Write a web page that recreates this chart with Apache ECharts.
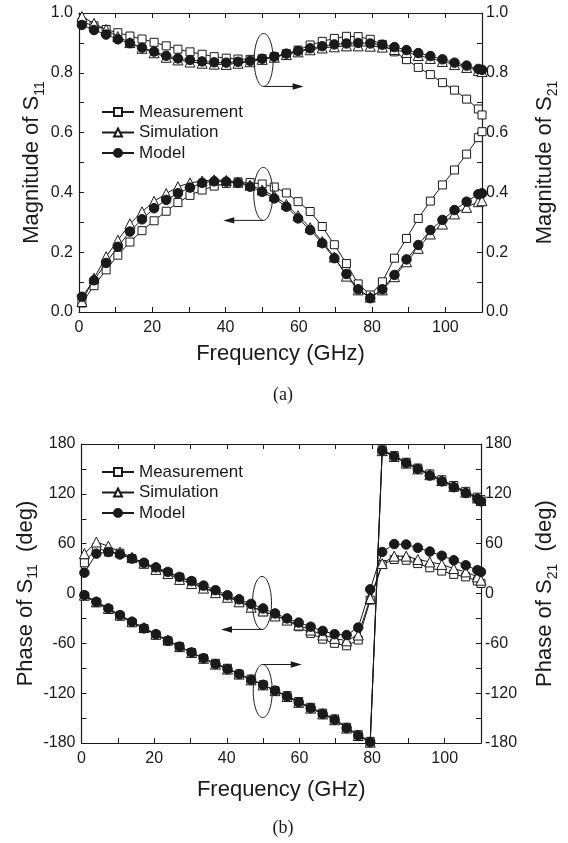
<!DOCTYPE html>
<html><head><meta charset="utf-8">
<script src="https://cdn.jsdelivr.net/npm/echarts@6/dist/echarts.min.js"></script>
<style>html,body{margin:0;padding:0;background:#fff}#c{width:568px;height:843px}</style>
</head><body><div id="c"></div>
<script>
// Frequency points (GHz)
const freq = [0.8, 4.1, 7.4, 10.6, 13.9, 17.2, 20.5, 23.8, 27.0, 30.3, 33.6, 36.9, 40.2, 43.4, 46.7, 50.0, 53.3, 56.6, 59.8, 63.1, 66.4, 69.7, 73.0, 76.2, 79.5, 82.8, 86.1, 89.4, 92.6, 95.9, 99.2, 102.5, 105.8, 109.0, 110.0];
const seriesNames = ['Measurement', 'Simulation', 'Model'];

// (a) Magnitude of S21 (right axis)
const magS21Meas  = [0.970, 0.957, 0.945, 0.934, 0.923, 0.913, 0.902, 0.890, 0.879, 0.870, 0.862, 0.854, 0.849, 0.846, 0.845, 0.847, 0.854, 0.864, 0.876, 0.893, 0.905, 0.915, 0.922, 0.921, 0.912, 0.895, 0.870, 0.844, 0.818, 0.794, 0.767, 0.742, 0.712, 0.679, 0.659];
const magS21Sim   = [0.988, 0.965, 0.945, 0.921, 0.901, 0.882, 0.867, 0.852, 0.843, 0.836, 0.832, 0.829, 0.828, 0.832, 0.837, 0.845, 0.852, 0.861, 0.870, 0.877, 0.883, 0.887, 0.890, 0.890, 0.889, 0.886, 0.878, 0.868, 0.858, 0.848, 0.838, 0.828, 0.818, 0.808, 0.804];
const magS21Model = [0.960, 0.943, 0.928, 0.912, 0.899, 0.884, 0.871, 0.857, 0.848, 0.843, 0.838, 0.835, 0.834, 0.837, 0.840, 0.847, 0.854, 0.864, 0.873, 0.882, 0.889, 0.895, 0.898, 0.900, 0.898, 0.894, 0.886, 0.876, 0.866, 0.856, 0.845, 0.834, 0.824, 0.813, 0.810];
// (a) Magnitude of S11 (left axis)
const magS11Meas  = [0.030, 0.088, 0.141, 0.190, 0.234, 0.272, 0.305, 0.337, 0.366, 0.390, 0.408, 0.421, 0.430, 0.435, 0.433, 0.428, 0.418, 0.398, 0.369, 0.336, 0.286, 0.225, 0.162, 0.094, 0.057, 0.101, 0.180, 0.246, 0.313, 0.371, 0.425, 0.475, 0.528, 0.583, 0.603];
const magS11Sim   = [0.035, 0.113, 0.185, 0.240, 0.295, 0.335, 0.370, 0.396, 0.419, 0.432, 0.438, 0.442, 0.440, 0.434, 0.424, 0.408, 0.388, 0.360, 0.322, 0.282, 0.236, 0.184, 0.120, 0.074, 0.050, 0.074, 0.118, 0.168, 0.213, 0.261, 0.294, 0.328, 0.350, 0.369, 0.372];
const magS11Model = [0.051, 0.106, 0.164, 0.218, 0.269, 0.310, 0.347, 0.375, 0.397, 0.416, 0.432, 0.437, 0.436, 0.432, 0.419, 0.402, 0.380, 0.352, 0.313, 0.274, 0.230, 0.180, 0.127, 0.076, 0.046, 0.076, 0.124, 0.176, 0.224, 0.274, 0.308, 0.341, 0.369, 0.394, 0.397];

// (b) Phase of S11 (left axis, deg)
const phS11Meas  = [37, 55, 50, 48.5, 42, 35.5, 30, 25, 19.5, 14, 7, 2, -4, -8.5, -15, -22, -26, -32, -40, -48, -55, -60, -63, -56, -8, 35, 41, 40, 36, 31, 27, 23, 20, 15, 12];
const phS11Sim   = [48, 62, 57, 50, 43.5, 36.5, 29, 24, 17, 12, 6.5, 1, -4.5, -10, -16.5, -21, -27, -32, -38, -44, -50, -54, -57, -50, -6, 36, 45, 45, 41, 38, 35, 30, 26, 20, 16];
const phS11Model = [25, 48, 50, 47, 42, 37, 31.5, 26, 20, 15, 9.5, 4, -2, -7, -12.5, -18, -24, -30, -35, -40, -45, -49, -50, -41, 5, 50, 59.5, 59, 55, 50.5, 45.5, 40, 34, 28, 26];
// (b) Phase of S21 (right axis, deg)
const phS21Meas  = [-3, -11, -19, -27, -35, -42, -50, -57, -64, -71, -78, -84, -90, -97, -103, -110, -117, -123, -130, -137, -144, -151, -161, -170, -178, 173, 166, 158, 151, 144, 137, 130, 123, 116, 113];
const phS21Sim   = [-2, -10, -18, -26, -34, -41, -49, -56, -64, -71, -78, -85, -91, -97, -104, -110, -117, -124, -131, -138, -145, -152, -162, -171, -179, 172, 165, 157, 150, 143, 136, 129, 122, 115, 112];
const phS21Model = [-2, -10, -18, -26, -34, -42, -49, -57, -64, -71, -78, -85, -91, -97, -104, -110, -117, -124, -131, -138, -145, -152, -162, -171, -179, 172, 165, 157, 150, 142, 135, 128, 121, 114, 111];

// Tick label values
const freqLabels = [0, 20, 40, 60, 80, 100];
const magLabels = [0, 0.2, 0.4, 0.6, 0.8, 1.0];
const phaseLabels = [-180, -120, -60, 0, 60, 120, 180];

const FONT = '"Liberation Sans", Arial, Helvetica, sans-serif';
const INK = '#1a1a1a';

const chart = echarts.init(document.getElementById('c'), null, {renderer: 'canvas'});

function xAxisDef(gridIndex, position, nameGap) {
  const bottom = position === 'bottom';
  return {
    type: 'value', gridIndex, position, min: 0, max: 110, interval: 10,
    axisLine: {show: true, onZero: false, lineStyle: {color: INK, width: 1.2}},
    axisTick: {show: true, inside: true, length: 5, lineStyle: {color: INK, width: 1}},
    splitLine: {show: false},
    axisLabel: {
      show: bottom, margin: 8, fontSize: 16, color: INK, fontFamily: FONT,
      formatter: v => { const r = Math.round(v); return freqLabels.includes(r) ? String(r) : ''; }
    },
    name: bottom ? 'Frequency (GHz)' : '', nameLocation: 'middle', nameGap, nameMoveOverlap: false,
    nameTextStyle: {fontSize: 22, color: INK, fontFamily: FONT}
  };
}
const richName = {
  t: {fontSize: 22, lineHeight: 30, color: INK, fontFamily: FONT, verticalAlign: 'middle'},
  s: {fontSize: 14, lineHeight: 14, color: INK, fontFamily: FONT, verticalAlign: 'bottom'}
};
function yAxisDef(gridIndex, position, min, max, interval, labels, fmt, name, nameGap, margin) {
  return {
    type: 'value', gridIndex, position, min, max, interval,
    axisLine: {show: true, onZero: false, lineStyle: {color: INK, width: 1.2}},
    axisTick: {show: true, inside: true, length: 5, lineStyle: {color: INK, width: 1}},
    splitLine: {show: false},
    axisLabel: {
      margin, fontSize: 16, color: INK, fontFamily: FONT,
      formatter: v => { const hit = labels.find(l => Math.abs(l - v) < 1e-6); return hit === undefined ? '' : fmt(hit); }
    },
    name, nameLocation: 'middle', nameRotate: 90, nameGap, nameMoveOverlap: false,
    nameTextStyle: {color: INK, fontFamily: FONT, rich: richName}
  };
}
const f1 = v => v.toFixed(1);
const f0 = v => String(v);

const styles = [
  {symbol: 'rect', symbolSize: 8, itemStyle: {color: '#fff', borderColor: INK, borderWidth: 1}},
  {symbol: 'triangle', symbolSize: 10, itemStyle: {color: '#fff', borderColor: INK, borderWidth: 1}},
  {symbol: 'circle', symbolSize: 9.5, itemStyle: {color: INK, borderColor: INK, borderWidth: 1}}
];
function mk(nameIdx, xAxisIndex, yAxisIndex, values) {
  const st = styles[nameIdx];
  return {
    type: 'line', name: seriesNames[nameIdx], xAxisIndex, yAxisIndex,
    data: freq.map((f, i) => [f, values[i]]),
    symbol: st.symbol, symbolSize: st.symbolSize, showAllSymbol: true,
    itemStyle: st.itemStyle,
    lineStyle: {color: INK, width: 1},
    z: 2 + nameIdx, silent: true, animation: false
  };
}

const legendDef = top => ({
  data: seriesNames, orient: 'vertical', left: 96, top,
  itemWidth: 32, itemHeight: 10, itemGap: 2.5, selectedMode: false,
  textStyle: {fontSize: 17, lineHeight: 18, color: INK, fontFamily: FONT}
});

chart.setOption({
  backgroundColor: '#fff',
  animation: false,
  grid: [
    {left: 79, right: 81, top: 13, height: 299},
    {left: 81.5, right: 80, top: 444, height: 299}
  ],
  legend: [legendDef(98), legendDef(458)],
  xAxis: [
    xAxisDef(0, 'bottom', 31), xAxisDef(0, 'top', 0),
    xAxisDef(1, 'bottom', 36), xAxisDef(1, 'top', 0)
  ],
  yAxis: [
    yAxisDef(0, 'left', 0, 1, 0.1, magLabels, f1, '{t|Magnitude of S}{s|11}', 32, 6),
    yAxisDef(0, 'right', 0, 1, 0.1, magLabels, f1, '{t|Magnitude of S}{s|21}', 48, 4),
    yAxisDef(1, 'left', -180, 180, 30, phaseLabels, f0, '{t|Phase of S}{s|11}{t|  (deg)}', 41, 6),
    yAxisDef(1, 'right', -180, 180, 30, phaseLabels, f0, '{t|Phase of S}{s|21}{t|  (deg)}', 49, 4)
  ],
  series: [
    mk(0, 0, 0, magS11Meas), mk(1, 0, 0, magS11Sim), mk(2, 0, 0, magS11Model),
    mk(0, 0, 1, magS21Meas), mk(1, 0, 1, magS21Sim), mk(2, 0, 1, magS21Model),
    mk(0, 2, 2, phS11Meas), mk(1, 2, 2, phS11Sim), mk(2, 2, 2, phS11Model),
    mk(0, 2, 3, phS21Meas), mk(1, 2, 3, phS21Sim), mk(2, 2, 3, phS21Model)
  ]
});

// Annotations: ellipse around a curve group with an arrow pointing to its axis
const annots = [
  {xAxisIndex: 0, yAxisIndex: 1, x: 50.4, y: 0.843, dir: 1, side: 1, len: 40},
  {xAxisIndex: 0, yAxisIndex: 0, x: 50.3, y: 0.395, dir: -1, side: 1, len: 40},
  {xAxisIndex: 2, yAxisIndex: 2, x: 49.7, y: -11.4, dir: -1, side: 1, len: 41},
  {xAxisIndex: 2, yAxisIndex: 3, x: 49.9, y: -117.4, dir: 1, side: -1, len: 39}
];
const RX = 9.5, RY = 26.5;
const gfx = [];
annots.forEach(a => {
  const [cx, cy] = chart.convertToPixel({xAxisIndex: a.xAxisIndex, yAxisIndex: a.yAxisIndex}, [a.x, a.y]);
  const ay = cy + a.side * RY;
  const tip = cx + a.dir * a.len;
  gfx.push({type: 'ellipse', shape: {cx, cy, rx: RX, ry: RY}, style: {fill: 'none', stroke: INK, lineWidth: 1}, z: 50});
  gfx.push({type: 'line', shape: {x1: cx, y1: ay, x2: tip - a.dir * 6, y2: ay}, style: {stroke: INK, lineWidth: 1}, z: 50});
  gfx.push({type: 'polygon', shape: {points: [[tip, ay], [tip - a.dir * 11, ay - 3.2], [tip - a.dir * 11, ay + 3.2]]}, style: {fill: INK}, z: 50});
});
gfx.push({type: 'text', x: 283, y: 395, style: {text: '(a)', font: '18px "Liberation Serif", "Times New Roman", serif', fill: INK, align: 'center', verticalAlign: 'middle'}});
gfx.push({type: 'text', x: 283, y: 828, style: {text: '(b)', font: '18px "Liberation Serif", "Times New Roman", serif', fill: INK, align: 'center', verticalAlign: 'middle'}});
chart.setOption({graphic: gfx});
</script></body></html>
